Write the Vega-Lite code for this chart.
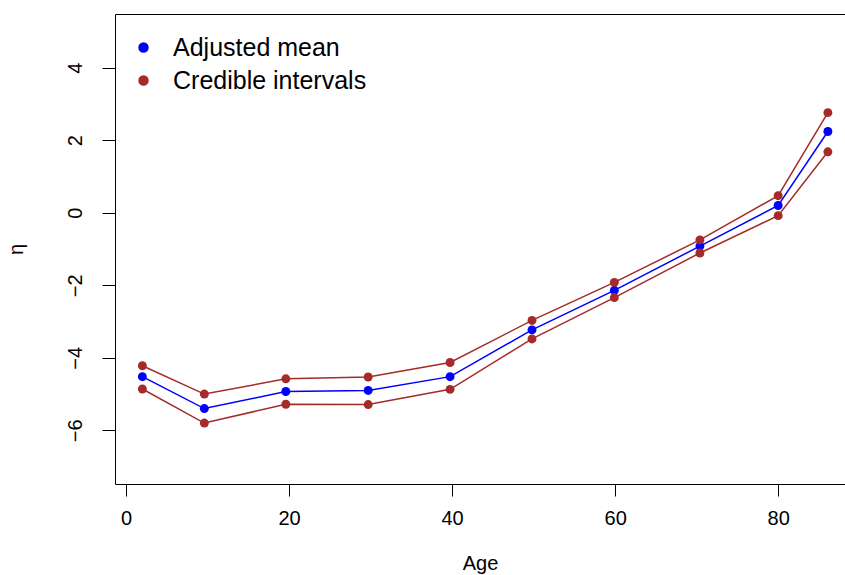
{
  "$schema": "https://vega.github.io/schema/vega-lite/v6.json",
  "width": 730,
  "height": 470,
  "autosize": "none",
  "padding": {"left": 115, "top": 14, "right": 0, "bottom": 91},
  "background": "white",
  "config": {
    "view": {"stroke": null},
    "font": "Liberation Sans",
    "axis": {
      "grid": false,
      "domainColor": "black",
      "domainWidth": 1,
      "tickColor": "black",
      "tickWidth": 1,
      "labelColor": "black",
      "labelFont": "Liberation Sans",
      "labelFontSize": 20,
      "titleColor": "black",
      "titleFont": "Liberation Sans",
      "titleFontSize": 20,
      "titleFontWeight": "normal",
      "labelOverlap": false,
      "labelFlush": false
    }
  },
  "data": {
    "values": [
      {"age": 2.0, "eta": -4.52, "kind": "Adjusted mean", "bound": "mean"},
      {"age": 9.6, "eta": -5.40, "kind": "Adjusted mean", "bound": "mean"},
      {"age": 19.6, "eta": -4.93, "kind": "Adjusted mean", "bound": "mean"},
      {"age": 29.7, "eta": -4.90, "kind": "Adjusted mean", "bound": "mean"},
      {"age": 39.75, "eta": -4.52, "kind": "Adjusted mean", "bound": "mean"},
      {"age": 49.8, "eta": -3.23, "kind": "Adjusted mean", "bound": "mean"},
      {"age": 59.9, "eta": -2.14, "kind": "Adjusted mean", "bound": "mean"},
      {"age": 70.4, "eta": -0.92, "kind": "Adjusted mean", "bound": "mean"},
      {"age": 80.0, "eta": 0.20, "kind": "Adjusted mean", "bound": "mean"},
      {"age": 86.1, "eta": 2.24, "kind": "Adjusted mean", "bound": "mean"},
      {"age": 2.0, "eta": -4.22, "kind": "Credible intervals", "bound": "upper"},
      {"age": 9.6, "eta": -5.00, "kind": "Credible intervals", "bound": "upper"},
      {"age": 19.6, "eta": -4.58, "kind": "Credible intervals", "bound": "upper"},
      {"age": 29.7, "eta": -4.53, "kind": "Credible intervals", "bound": "upper"},
      {"age": 39.75, "eta": -4.13, "kind": "Credible intervals", "bound": "upper"},
      {"age": 49.8, "eta": -2.97, "kind": "Credible intervals", "bound": "upper"},
      {"age": 59.9, "eta": -1.92, "kind": "Credible intervals", "bound": "upper"},
      {"age": 70.4, "eta": -0.75, "kind": "Credible intervals", "bound": "upper"},
      {"age": 80.0, "eta": 0.47, "kind": "Credible intervals", "bound": "upper"},
      {"age": 86.1, "eta": 2.76, "kind": "Credible intervals", "bound": "upper"},
      {"age": 2.0, "eta": -4.86, "kind": "Credible intervals", "bound": "lower"},
      {"age": 9.6, "eta": -5.80, "kind": "Credible intervals", "bound": "lower"},
      {"age": 19.6, "eta": -5.28, "kind": "Credible intervals", "bound": "lower"},
      {"age": 29.7, "eta": -5.29, "kind": "Credible intervals", "bound": "lower"},
      {"age": 39.75, "eta": -4.87, "kind": "Credible intervals", "bound": "lower"},
      {"age": 49.8, "eta": -3.48, "kind": "Credible intervals", "bound": "lower"},
      {"age": 59.9, "eta": -2.34, "kind": "Credible intervals", "bound": "lower"},
      {"age": 70.4, "eta": -1.11, "kind": "Credible intervals", "bound": "lower"},
      {"age": 80.0, "eta": -0.08, "kind": "Credible intervals", "bound": "lower"},
      {"age": 86.1, "eta": 1.68, "kind": "Credible intervals", "bound": "lower"}
    ]
  },
  "layer": [
    {
      "mark": {"type": "line", "strokeWidth": 1.5},
      "encoding": {
        "x": {
          "field": "age", "type": "quantitative",
          "scale": {"domain": [-1.36, 88.2], "nice": false, "zero": false},
          "axis": {
            "orient": "bottom",
            "values": [0, 20, 40, 60, 80],
            "tickSize": 12,
            "labelPadding": 12,
            "title": "Age",
            "titleY": 85,
            "titleBaseline": "alphabetic"
          }
        },
        "y": {
          "field": "eta", "type": "quantitative",
          "scale": {"domain": [-7.48, 5.48], "nice": false, "zero": false},
          "axis": {
            "values": [-6, -4, -2, 0, 2, 4],
            "tickSize": 13,
            "labelAngle": -90,
            "labelAlign": "center",
            "labelBaseline": "bottom",
            "labelPadding": 17,
            "title": "η",
            "titleAngle": -90,
            "titleX": -93,
            "titleY": 235,
            "titleBaseline": "alphabetic"
          }
        },
        "color": {
          "field": "kind", "type": "nominal",
          "scale": {"domain": ["Adjusted mean", "Credible intervals"], "range": ["#0000FF", "#A52A2A"]},
          "legend": {
            "title": null,
            "orient": "none",
            "legendX": 16,
            "legendY": 21,
            "symbolType": "circle",
            "symbolSize": 80,
            "labelFontSize": 25,
            "labelFont": "Liberation Sans",
            "labelColor": "black",
            "labelLimit": 0,
            "rowPadding": 7,
            "labelOffset": 17
          }
        },
        "detail": {"field": "bound"}
      }
    },
    {
      "mark": {"type": "point", "filled": true, "size": 80, "opacity": 1},
      "encoding": {
        "x": {
          "field": "age", "type": "quantitative",
          "axis": {"orient": "top", "labels": false, "ticks": false, "title": null, "domain": true}
        },
        "y": {"field": "eta", "type": "quantitative"},
        "color": {"field": "kind", "type": "nominal"}
      }
    }
  ],
  "resolve": {"axis": {"x": "independent"}}
}
